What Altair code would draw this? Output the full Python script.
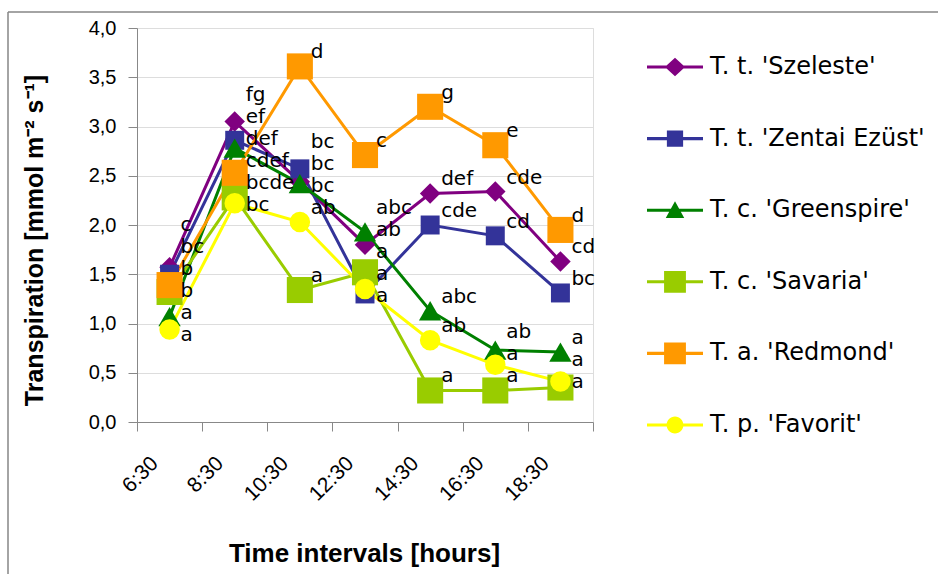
import altair as alt
import pandas as pd

times = ["6:30", "8:30", "10:30", "12:30", "14:30", "16:30", "18:30"]
series = ["T. t. 'Szeleste'", "T. t. 'Zentai Ezüst'", "T. c. 'Greenspire'",
          "T. c. 'Savaria'", "T. a. 'Redmond'", "T. p. 'Favorit'"]

szeleste = [1.57, 3.05, 2.44, 1.80, 2.32, 2.34, 1.63]
zentai = [1.50, 2.86, 2.57, 1.30, 2.00, 1.89, 1.31]
greenspire = [1.07, 2.78, 2.42, 1.93, 1.13, 0.73, 0.71]
savaria = [1.32, 2.28, 1.34, 1.52, 0.32, 0.32, 0.35]
redmond = [1.39, 2.53, 3.61, 2.71, 3.20, 2.81, 1.95]
favorit = [0.94, 2.22, 2.03, 1.35, 0.83, 0.58, 0.41]

szeleste_sig = ["c", "fg", "bc", "ab", "def", "cde", "cd"]
zentai_sig = ["bc", "ef", "bc", "a", "cde", "cd", "bc"]
greenspire_sig = ["a", "def", "bc", "abc", "abc", "ab", "a"]
savaria_sig = ["b", "bcde", "a", "a", "a", "a", "a"]
redmond_sig = ["b", "cdef", "d", "c", "g", "e", "d"]
favorit_sig = ["a", "bc", "ab", "a", "ab", "a", "a"]

y_ticks = [0, 0.5, 1.0, 1.5, 2.0, 2.5, 3.0, 3.5, 4.0]

# ---- styles ----
colors = ["#800080", "#333399", "#008000", "#99CC00", "#FF9900", "#FFFF00"]
shapes = ["diamond", "square", "triangle-up", "square", "square", "circle"]
sizes = [420, 360, 500, 680, 680, 420]
LINE = "M-1,-0.055H1V0.055H-1Z"
legend_paths = [
    LINE + "M0,-0.33L0.36,0L0,0.33L-0.36,0Z",
    LINE + "M-0.29,-0.29H0.29V0.29H-0.29Z",
    LINE + "M0,-0.32L0.33,0.28L-0.33,0.28Z",
    LINE + "M-0.39,-0.39H0.39V0.39H-0.39Z",
    LINE + "M-0.39,-0.39H0.39V0.39H-0.39Z",
    LINE + "M-0.3,0A0.3,0.3 0 1,1 0.3,0A0.3,0.3 0 1,1 -0.3,0Z",
]

PLOT_W, PLOT_H = 456, 394
PX_PER_UNIT = PLOT_H / 4.0
LABEL_LIFT = 14 / PX_PER_UNIT   # labels sit a little above their marker
LABEL_GAP = 22 / PX_PER_UNIT    # minimum vertical distance between labels

values = [szeleste, zentai, greenspire, savaria, redmond, favorit]
sigs = [szeleste_sig, zentai_sig, greenspire_sig, savaria_sig, redmond_sig, favorit_sig]
rows = []
for si, s in enumerate(series):
    for ti, t in enumerate(times):
        rows.append({"time": t, "ti": ti, "series": s, "value": values[si][ti],
                     "sig": sigs[si][ti], "order": si})
df = pd.DataFrame(rows)


def spread_labels(desired, gap):
    """1-D label de-overlap: desired is list of (row_index, y), any order."""
    items = sorted(desired, key=lambda d: -d[1])
    clusters = []

    def top(c):
        return sum(y + k * gap for k, (_, y) in enumerate(c)) / len(c)

    for it in items:
        clusters.append([it])
        while len(clusters) > 1:
            a, b = clusters[-2], clusters[-1]
            bottom_a = top(a) - gap * (len(a) - 1)
            if bottom_a - top(b) < gap:
                clusters[-2:] = [a + b]
            else:
                break
    out = {}
    for c in clusters:
        t0 = top(c)
        for k, (idx, _) in enumerate(c):
            out[idx] = t0 - k * gap
    return out


label_pos = {}
for ti in range(len(times)):
    sub = df[df.ti == ti]
    label_pos.update(spread_labels([(i, v + LABEL_LIFT) for i, v in zip(sub.index, sub.value)],
                                   LABEL_GAP))
df["label_v"] = [label_pos[i] for i in df.index]

FONT = "DejaVu Sans"
GRAY = "#8c8c8c"

x_enc = alt.X(
    "time:N", sort=times, bandPosition=0.5,
    scale=alt.Scale(type="band", paddingInner=0, paddingOuter=0),
    axis=alt.Axis(title="Time intervals [hours]", tickBand="extent", labelAngle=-45,
                  labelAlign="right", labelBaseline="middle", labelPadding=29,
                  labelOffset=-15, tickSize=9, grid=False, labelFontSize=21,
                  titleX=227, titleY=131, titleBaseline="middle",
                  titleFontSize=26, titleFontWeight="bold"),
)


def make_y(field):
    return alt.Y(
        f"{field}:Q", scale=alt.Scale(domain=[0, 4], nice=False, zero=True),
        axis=alt.Axis(title="Transpiration [mmol m⁻² s⁻¹]", values=y_ticks,
                      labelExpr="replace(format(datum.value, '.1f'), '.', ',')",
                      tickSize=9, labelPadding=12, labelFontSize=20,
                      titleX=-103, titleY=212, titleAngle=-90, titleBaseline="middle",
                      titleAlign="center", titleFontSize=25, titleFontWeight="bold"),
    )


y_enc = make_y("value")
base = alt.Chart(df)

line_layers, point_layers = [], []
for i, s in enumerate(series):
    sub = base.transform_filter(alt.datum.series == s)
    line_layers.append(sub.mark_line(strokeWidth=3, color=colors[i]).encode(x=x_enc, y=y_enc))
    point_layers.append(
        sub.mark_point(shape=shapes[i], size=sizes[i], filled=True, opacity=1,
                       color=colors[i]).encode(x=x_enc, y=y_enc)
    )

texts = base.mark_text(align="left", baseline="middle", dx=11,
                       fontSize=20, font=FONT, color="#000000").encode(
    x=x_enc, y=make_y("label_v"), text="sig:N")

leg_kwargs = dict(title=None, orient="none", legendX=510, legendY=11,
                  symbolSize=3136, symbolStrokeWidth=0, symbolOpacity=1,
                  labelFontSize=24, labelFont=FONT, labelOffset=7, rowPadding=31.6,
                  padding=0, offset=0, labelColor="#000000", labelLimit=300)
legend_layer = base.mark_point(filled=True, opacity=0).encode(
    x=x_enc, y=y_enc,
    color=alt.Color("series:N", sort=series, scale=alt.Scale(domain=series, range=colors),
                    legend=alt.Legend(**leg_kwargs)),
    shape=alt.Shape("series:N", sort=series, scale=alt.Scale(domain=series, range=legend_paths),
                    legend=alt.Legend(**leg_kwargs)),
)

frame_df = pd.DataFrame({"k": [0]})
frame_v = alt.Chart(frame_df).mark_rule(color="#868686", strokeWidth=1.5).encode(
    x=alt.value(-129), y=alt.value(-16), y2=alt.value(560))
frame_h = alt.Chart(frame_df).mark_rule(color="#868686", strokeWidth=1.5).encode(
    x=alt.value(-129), x2=alt.value(820), y=alt.value(-16))

chart = alt.layer(frame_v, frame_h, *line_layers, *point_layers, texts, legend_layer).properties(
    width=PLOT_W, height=PLOT_H,
    autosize=alt.AutoSizeParams(type="none"),
    padding={"left": 137, "top": 28, "right": 345, "bottom": 152},
).configure_view(stroke=None).configure_axis(
    gridColor=GRAY, gridWidth=1.5, domainColor=GRAY, domainWidth=1.5,
    tickColor=GRAY, tickWidth=1.5, labelFont=FONT, titleFont=FONT,
    labelColor="#000000", titleColor="#000000",
).configure(background="white")

chart.save("out.html", embed_options={"renderer": "svg", "actions": False})
